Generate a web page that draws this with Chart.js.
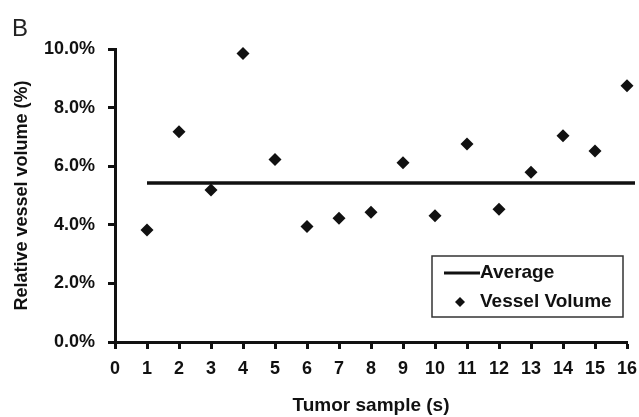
<!DOCTYPE html>
<html>
<head>
<meta charset="utf-8">
<script src="https://cdn.jsdelivr.net/npm/chart.js@4.4.1/dist/chart.umd.min.js"></script>
<style>
  body { margin: 0; background: #fff; }
  #wrap { position: relative; width: 639px; height: 417px; }
  #panel { position: absolute; left: 12px; top: 14px; font: 24px "Liberation Sans", Arial, sans-serif; color: #222; }
</style>
</head>
<body>
<div id="wrap">
  <canvas id="grafico" width="639" height="417"></canvas>
  <div id="panel">B</div>
</div>
<script>
// valores
const amostras = [1, 2, 3, 4, 5, 6, 7, 8, 9, 10, 11, 12, 13, 14, 15, 16];
const volumeVaso = [3.82, 7.18, 5.19, 9.85, 6.23, 3.94, 4.22, 4.43, 6.12, 4.31, 6.76, 4.53, 5.79, 7.04, 6.52, 8.75];
const media = 5.43;
const mediaX = [1, 16.25];
const ticksY = [0, 2, 4, 6, 8, 10];
const ticksX = [0, 1, 2, 3, 4, 5, 6, 7, 8, 9, 10, 11, 12, 13, 14, 15, 16];

const fonte = '"Liberation Sans", Arial, sans-serif';

// legenda desenhada dentro da área do gráfico
const legendaCaixa = {
  id: 'legendaCaixa',
  afterDraw(chart) {
    const ctx = chart.ctx;
    const area = chart.chartArea;
    const x0 = area.right - 195, y0 = area.bottom - 86, w = 191, h = 61;
    ctx.save();
    ctx.strokeStyle = '#333';
    ctx.lineWidth = 1.5;
    ctx.strokeRect(x0, y0, w, h);
    ctx.fillStyle = '#111';
    ctx.font = 'bold 19px ' + fonte;
    ctx.textBaseline = 'middle';
    // Average
    ctx.strokeStyle = '#111';
    ctx.lineWidth = 3;
    ctx.beginPath();
    ctx.moveTo(x0 + 12, y0 + 17);
    ctx.lineTo(x0 + 48, y0 + 17);
    ctx.stroke();
    ctx.fillText('Average', x0 + 48, y0 + 17);
    // Vessel Volume
    Chart.helpers.drawPoint(ctx, { pointStyle: 'rectRot', radius: 5, borderWidth: 0 }, x0 + 28, y0 + 46);
    ctx.fillText('Vessel Volume', x0 + 48, y0 + 46);
    ctx.restore();
  }
};

new Chart(document.getElementById('grafico'), {
  type: 'scatter',
  data: {
    datasets: [{
      label: 'Average',
      data: mediaX.map(x => ({ x: x, y: media })),
      showLine: true,
      borderColor: '#111',
      borderWidth: 3.5,
      pointRadius: 0,
      clip: false
    }, {
      label: 'Vessel Volume',
      data: amostras.map((s, i) => ({ x: s, y: volumeVaso[i] })),
      pointStyle: 'rectRot',
      pointRadius: 6.5,
      pointHoverRadius: 6.5,
      backgroundColor: '#111',
      borderColor: '#111',
      borderWidth: 0,
      clip: false
    }]
  },
  options: {
    responsive: false,
    animation: false,
    layout: { padding: { top: 49, right: 12, left: 0, bottom: 0 } },
    plugins: {
      legend: { display: false },
      tooltip: { enabled: false }
    },
    scales: {
      x: {
        type: 'linear',
        min: 0,
        max: 16,
        afterBuildTicks: s => { s.ticks = ticksX.map(v => ({ value: v })); },
        afterFit: s => { s.height = 75; s.paddingRight = 0; s.paddingLeft = 0; },
        border: { color: '#111', width: 3 },
        grid: { drawOnChartArea: false, drawTicks: true, tickLength: 7, tickWidth: 3, tickColor: '#111' },
        ticks: { color: '#111', font: { family: fonte, size: 18, weight: 'bold' }, padding: 9, maxRotation: 0, autoSkip: false },
        title: { display: true, text: 'Tumor sample (s)', color: '#111', font: { family: fonte, size: 19, weight: 'bold' }, padding: { top: 4, bottom: 0 } }
      },
      y: {
        min: 0,
        max: 10,
        afterBuildTicks: s => { s.ticks = ticksY.map(v => ({ value: v })); },
        afterFit: s => { s.width = 115; s.paddingTop = 0; s.paddingBottom = 0; },
        border: { color: '#111', width: 3 },
        grid: { drawOnChartArea: false, drawTicks: true, tickLength: 7, tickWidth: 3, tickColor: '#111' },
        ticks: { color: '#111', font: { family: fonte, size: 18, weight: 'bold' }, padding: 13, callback: v => v.toFixed(1) + '%' },
        title: { display: true, text: 'Relative vessel volume (%)', color: '#111', font: { family: fonte, size: 18, weight: 'bold' }, padding: { top: 11, bottom: 0 } }
      }
    }
  },
  plugins: [legendaCaixa]
});
</script>
</body>
</html>
